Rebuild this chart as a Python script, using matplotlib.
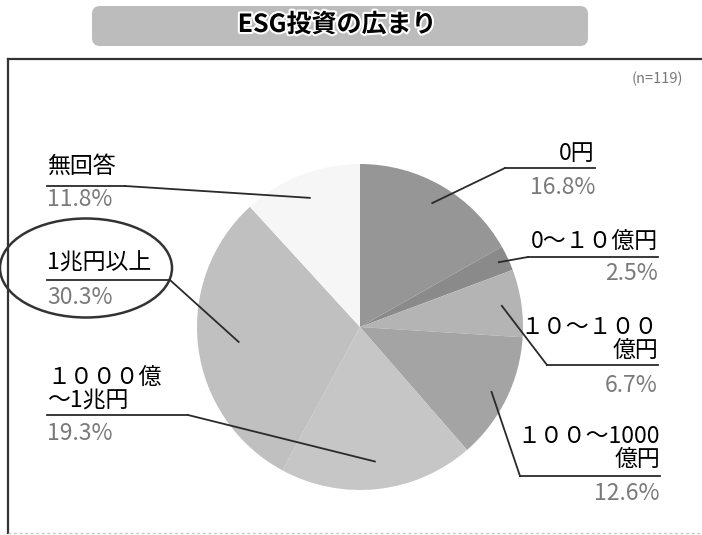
import numpy as np
import matplotlib
matplotlib.use("Agg")
import matplotlib.pyplot as plt
from matplotlib.patches import Ellipse, FancyBboxPatch
import matplotlib.patheffects as pe

plt.rcParams['font.family'] = ['Noto Sans CJK JP', 'DejaVu Sans']

# data (clockwise from the top)
labels = ["0円", "0～１０億円", "１０～１００\n億円", "１００～1000\n億円",
          "１０００億\n～1兆円", "1兆円以上", "無回答"]
shares = [16.8, 2.5, 6.7, 12.6, 19.3, 30.3, 11.8]
n_resp = 119

colors = ["#969696", "#8a8a8a", "#b4b4b4", "#a4a4a4", "#c6c6c6", "#c0c0c0", "#f6f6f6"]

W, H = 702, 535
def Y(y):
    # pixel row (top-down) -> data y (bottom-up)
    return H - y

fig = plt.figure(figsize=(W / 100, H / 100), dpi=100)
ax = fig.add_axes([0, 0, 1, 1])

cx, cy, R = 360, 327, 163
ax.pie(shares, colors=colors, startangle=90, counterclock=False,
       center=(cx, Y(cy)), radius=R, frame=True,
       wedgeprops=dict(linewidth=0))

ax.set_xlim(0, W)
ax.set_ylim(0, H)
ax.set_aspect('equal')
ax.axis('off')

# frame
ax.plot([8, 8], [Y(59), Y(533)], color="#333333", lw=1.6)
ax.plot([8, W], [Y(59), Y(59)], color="#333333", lw=1.6)
ax.plot([8, W], [Y(533), Y(533)], color="#c8c8c8", lw=1, ls=(0, (2, 2)))

# title banner
ax.add_patch(FancyBboxPatch((92, Y(46)), 496, 40,
                            boxstyle="round,pad=0,rounding_size=8",
                            facecolor="#bcbcbc", edgecolor="none"))
ax.text(337, Y(25), "ESG投資の広まり", ha="center", va="center",
        fontsize=18, fontweight="bold", color="black",
        path_effects=[pe.withStroke(linewidth=3, foreground="white")])

ax.text(683, Y(79), f"(n={n_resp})", ha="right", va="center",
        fontsize=10.5, color="#777777")

# label layout: side, text x, label centre y, underline y, underline other end x,
# percent centre y, radius fraction for leader end
layout = [
    ("r", 595, 154, 168, 505, 187, 0.88),
    ("r", 658, 241, 257, 528, 273, 0.94),
    ("r", 658, 339, 365, 547, 385, 0.88),
    ("r", 660, 448, 476, 520, 494, 0.90),
    ("l", 47, 389, 415, 188, 434, 0.83),
    ("l", 47, 263, 280, 170, 297, 0.75),
    ("l", 47, 166, 186, 125, 200, 0.85),
]

cum = np.cumsum([0] + shares)
line_c = "#2a2a2a"
for i, (lab, val) in enumerate(zip(labels, shares)):
    side, tx, ly, uy, ux, py, rf = layout[i]
    mid = np.deg2rad((cum[i] + cum[i + 1]) / 2 * 3.6)
    ex = cx + rf * R * np.sin(mid)
    ey = cy - rf * R * np.cos(mid)
    ha = "right" if side == "r" else "left"
    ax.text(tx, Y(ly), lab, ha=ha, va="center", fontsize=16.5,
            color="black", linespacing=1.0)
    ax.text(tx, Y(py), f"{val}%", ha=ha, va="center", fontsize=16.5,
            color="#7a7a7a")
    ax.plot([tx, ux], [Y(uy), Y(uy)], color=line_c, lw=1.3)
    ax.plot([ux, ex], [Y(uy), Y(ey)], color=line_c, lw=1.3)

# highlight ring around 1兆円以上
ax.add_patch(Ellipse((86, Y(268)), 172, 99, fill=False,
                     edgecolor="#333333", lw=1.8))

fig.savefig("out.png", dpi=100)
